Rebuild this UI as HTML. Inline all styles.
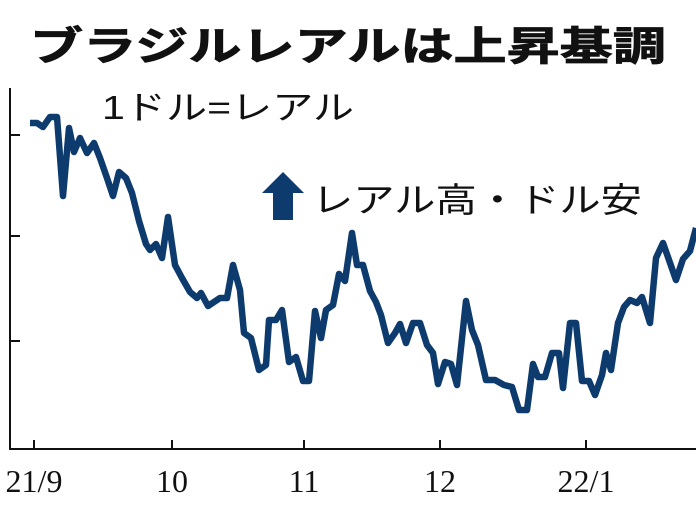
<!DOCTYPE html>
<html><head><meta charset="utf-8"><style>
body{margin:0;width:696px;height:522px;background:#fff;overflow:hidden}
svg{display:block}
text{font-family:"Liberation Sans","Noto Sans CJK JP",sans-serif;fill:#111}
text.s{font-family:"Liberation Serif",serif}
</style></head><body>
<svg width="696" height="522" viewBox="0 0 696 522">
<text x="348" y="60" text-anchor="middle" font-size="40" font-weight="bold" textLength="636" lengthAdjust="spacingAndGlyphs" stroke="#111" stroke-width="0.8">ブラジルレアルは上昇基調</text>
<text x="102" y="119" font-size="33" textLength="252" lengthAdjust="spacingAndGlyphs">1ドル=レアル</text>
<polygon points="262,193 283,172 304,193 293,193 293,220 273,220 273,193" fill="#0d3b6e"/>
<text x="312" y="212" font-size="34" textLength="330" lengthAdjust="spacingAndGlyphs">レアル高・ドル安</text>
<g stroke="#111" stroke-width="2" fill="none">
<path d="M10,88V449H696"/>
<path d="M10,135H20M10,236H20M10,341H20"/>
<path d="M34,449V440M172,449V440M304,449V440M440,449V440M586,449V440"/>
</g>
<g font-size="32" text-anchor="middle">
<text class="s" x="34" y="492">21/9</text><text class="s" x="172" y="492">10</text><text class="s" x="304" y="492">11</text><text class="s" x="440" y="492">12</text><text class="s" x="586" y="492">22/1</text>
</g>
<polyline fill="none" stroke="#0d3b6e" stroke-width="6.5" stroke-linejoin="round" points="30,123 37,123 43,127 50,117 57,117 63,196 69,128 74,152 80,138 87,153 94,143 100,158 107,178 113,196 119,172 126,178 132,193 139,221 146,244 150,250 156,244 162,258 168,217 175,265 182,278 190,292 197,298 201,293 208,306 220,298 227,298 233,265 240,290 244,333 251,338 259,370 266,365 269,320 276,320 282,310 289,362 296,357 303,381 309,381 315,311 321,338 326,310 333,305 339,274 345,281 352,233 357,265 363,265 370,291 376,302 381,315 388,343 395,333 400,324 406,343 413,323 420,323 427,345 433,353 438,384 445,362 451,364 457,385 466,301 472,330 478,345 486,380 495,380 504,385 512,387 519,410 527,410 533,364 538,377 545,377 552,353 559,353 563,388 570,323 576,323 582,381 589,381 595,395 602,375 606,353 611,370 618,323 624,307 630,300 637,303 642,297 650,323 656,258 663,243 669,260 676,280 683,259 690,251 696,228"/>
</svg>
</body></html>
